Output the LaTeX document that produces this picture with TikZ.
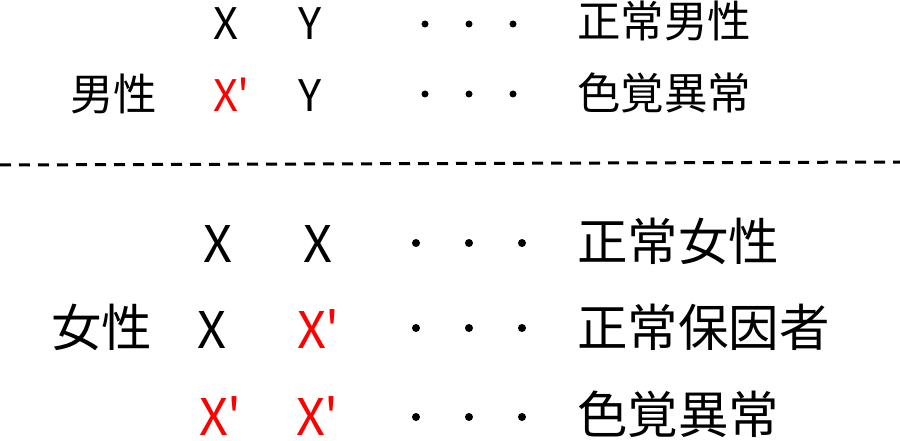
\documentclass[tikz,border=0pt]{standalone}
\usepackage{fontspec}
\setmainfont[Ligatures=TeXOff]{Noto Sans CJK JP}
\begin{document}
\begin{tikzpicture}[x=1pt,y=1pt,
  lbl/.style={anchor=base west,inner sep=0pt,text=black},
  small/.style={font=\fontsize{43.5}{43.5}\selectfont},
  big/.style={font=\fontsize{50.5}{50.5}\selectfont},
  red/.style={text={rgb,255:red,255;green,0;blue,0}},
  dotmark/.style={circle,fill=black,inner sep=0pt,minimum size=#1}]
\useasboundingbox (0,0) rectangle (900,440);
% upper section (male)
\node[lbl,small] (a1) at (213,400) {X};
\node[lbl,small] (b1) at (298,400) {Y};
\node[lbl,small] (c1) at (577,402) {正常男性};
\node[lbl,small] (m)  at (70,329) {男性};
\node[lbl,small,red] (a2) at (213,328) {X'};
\node[lbl,small] (b2) at (298,328) {Y};
\node[lbl,small] (c2) at (577,330) {色覚異常};
\foreach \y [count=\i] in {416,346}{
  \node[dotmark=7pt] (d\i a) at (425,\y) {};
  \node[dotmark=7pt] (d\i b) at (469,\y) {};
  \node[dotmark=7pt] (d\i c) at (513,\y) {};
}
% separator
\coordinate (sl) at (0,275);
\coordinate (sr) at (900,278);
\draw[line width=3pt,dash pattern=on 11pt off 8pt] (sl) -- (sr);
% lower section (female)
\node[lbl,big] (a3) at (203,178) {X};
\node[lbl,big] (b3) at (303,178) {X};
\node[lbl,big] (c3) at (577,180) {正常女性};
\node[lbl,big] (f)  at (51,94) {女性};
\node[lbl,big] (a4) at (197,92) {X};
\node[lbl,big,red] (b4) at (297,92) {X'};
\node[lbl,big] (c4) at (577,94) {正常保因者};
\node[lbl,big,red] (a5) at (199,5) {X'};
\node[lbl,big,red] (b5) at (296,5) {X'};
\node[lbl,big] (c5) at (577,7) {色覚異常};
\foreach \y [count=\i from 3] in {197,112,23}{
  \node[dotmark=8pt] (d\i a) at (416,\y) {};
  \node[dotmark=8pt] (d\i b) at (469,\y) {};
  \node[dotmark=8pt] (d\i c) at (522,\y) {};
}
\end{tikzpicture}
\end{document}
